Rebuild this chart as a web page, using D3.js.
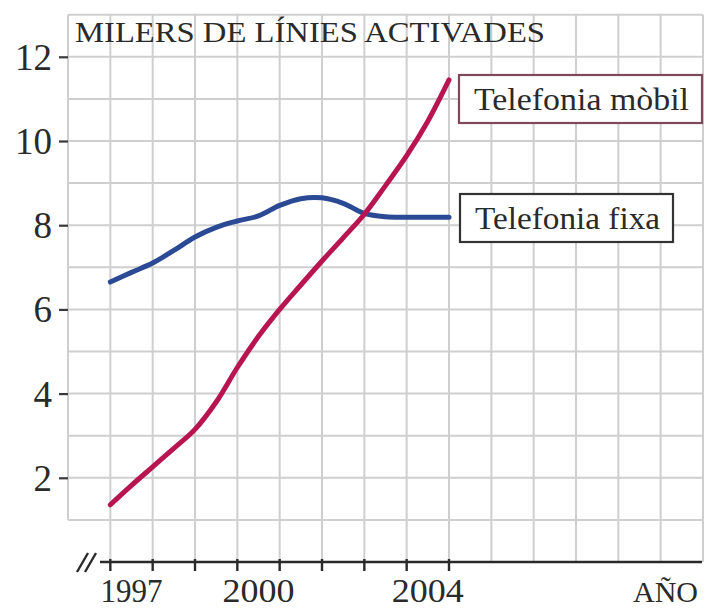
<!DOCTYPE html>
<html>
<head>
<meta charset="utf-8">
<script src="https://cdn.jsdelivr.net/npm/d3@7"></script>
<style>
  html, body { margin: 0; padding: 0; background: #fff; }
  svg { display: block; }
  text { font-family: "Liberation Serif", "DejaVu Serif", serif; fill: #2a2a2a; }
</style>
</head>
<body>
<svg id="chart" width="706" height="610"></svg>
<script>
// ---- data ----
const years = [1997, 1997.5, 1998, 1998.5, 1999, 1999.5, 2000, 2000.5, 2001, 2001.5, 2002, 2002.5, 2003, 2003.5, 2004, 2004.5, 2005];
const mobil = [1.36, 1.82, 2.26, 2.7, 3.15, 3.8, 4.62, 5.36, 6.0, 6.58, 7.15, 7.7, 8.26, 8.94, 9.65, 10.47, 11.45];
const fixa  = [6.65, 6.88, 7.1, 7.4, 7.72, 7.95, 8.1, 8.22, 8.47, 8.63, 8.65, 8.52, 8.28, 8.2, 8.19, 8.19, 8.19];
const yTicks = [2, 4, 6, 8, 10, 12];
const xLabels = ["1997", "2000", "2004"];
const title = "MILERS DE LÍNIES ACTIVADES";
const xTitle = "AÑO";
const legendMobil = "Telefonia mòbil";
const legendFixa = "Telefonia fixa";

// ---- layout ----
const svg = d3.select("#chart");
const x = d3.scaleLinear().domain([1996, 2011]).range([68, 703]);
const y = d3.scaleLinear().domain([0, 13]).range([562, 14.7]);

const gridColor = "#cfcfcf";

// horizontal grid lines (1..13)
svg.append("g").selectAll("line")
  .data(d3.range(1, 14))
  .join("line")
  .attr("x1", x(1996)).attr("x2", x(2011))
  .attr("y1", d => y(d)).attr("y2", d => y(d))
  .attr("stroke", gridColor).attr("stroke-width", 2);

// vertical grid lines
svg.append("g").selectAll("line")
  .data(d3.range(1996, 2012))
  .join("line")
  .attr("x1", d => x(d)).attr("x2", d => x(d))
  .attr("y1", y(13))
  .attr("y2", d => d === 1996 ? y(1) : y(0))
  .attr("stroke", gridColor).attr("stroke-width", 2);

// y axis ticks + labels
const yAxis = d3.axisLeft(y).tickValues(yTicks).tickSize(9).tickPadding(7).tickFormat(d3.format("d"));
const gy = svg.append("g").attr("transform", `translate(${x(1996)},0)`).call(yAxis);
gy.select(".domain").remove();
gy.selectAll(".tick line").attr("stroke", "#3a3a3a").attr("stroke-width", 2.2);
gy.selectAll(".tick text")
  .attr("font-family", "Liberation Serif, serif")
  .attr("font-size", 37).attr("fill", "#2a2a2a")
  .attr("dy", "0.34em");

// x axis line
svg.append("line")
  .attr("x1", 100).attr("x2", 702)
  .attr("y1", y(0)).attr("y2", y(0))
  .attr("stroke", "#2a2a2a").attr("stroke-width", 2.6);

// axis break marks "//"
[0, 8].forEach(off => {
  svg.append("line")
    .attr("x1", 77 + off).attr("y1", y(0) + 10)
    .attr("x2", 88 + off).attr("y2", y(0) - 9)
    .attr("stroke", "#2a2a2a").attr("stroke-width", 2.4);
});

// x ticks at cell boundaries 1997..2005
svg.append("g").selectAll("line")
  .data(d3.range(1997, 2006))
  .join("line")
  .attr("x1", d => x(d)).attr("x2", d => x(d))
  .attr("y1", y(0) - 3).attr("y2", y(0) + 9)
  .attr("stroke", "#2a2a2a").attr("stroke-width", 2.4);

// x labels centered in their year cell
svg.append("g").selectAll("text")
  .data(xLabels)
  .join("text")
  .attr("x", d => x(+d + 0.5))
  .attr("y", 602)
  .attr("text-anchor", "middle")
  .attr("font-size", 34)
  .attr("textLength", d => d === "1997" ? 62 : 72)
  .attr("lengthAdjust", "spacingAndGlyphs")
  .text(d => d);

svg.append("text")
  .attr("x", 698).attr("y", 602)
  .attr("text-anchor", "end")
  .attr("font-size", 30)
  .text(xTitle);

// title
svg.append("text")
  .attr("x", 75).attr("y", 42)
  .attr("font-size", 30)
  .attr("textLength", 470)
  .attr("lengthAdjust", "spacingAndGlyphs")
  .text(title);

// lines
const line = d3.line()
  .x((d, i) => x(years[i]))
  .y(d => y(d))
  .curve(d3.curveCatmullRom.alpha(0.5));

svg.append("path")
  .attr("d", line(fixa))
  .attr("fill", "none")
  .attr("stroke", "#2b4a95")
  .attr("stroke-width", 5)
  .attr("stroke-linecap", "round");

svg.append("path")
  .attr("d", line(mobil))
  .attr("fill", "none")
  .attr("stroke", "#b8144f")
  .attr("stroke-width", 5)
  .attr("stroke-linecap", "round");

// legend boxes
function legend(x0, y0, w, h, label, stroke, tl) {
  svg.append("rect")
    .attr("x", x0).attr("y", y0).attr("width", w).attr("height", h)
    .attr("fill", "#fff").attr("stroke", stroke).attr("stroke-width", 2.2);
  svg.append("text")
    .attr("x", x0 + 15).attr("y", y0 + 35)
    .attr("font-size", 31)
    .attr("textLength", tl)
    .attr("lengthAdjust", "spacingAndGlyphs")
    .text(label);
}
legend(459, 75, 243, 48, legendMobil, "#7d4a5c", 215);
legend(460, 194, 213, 48, legendFixa, "#333", 185);
</script>
</body>
</html>
